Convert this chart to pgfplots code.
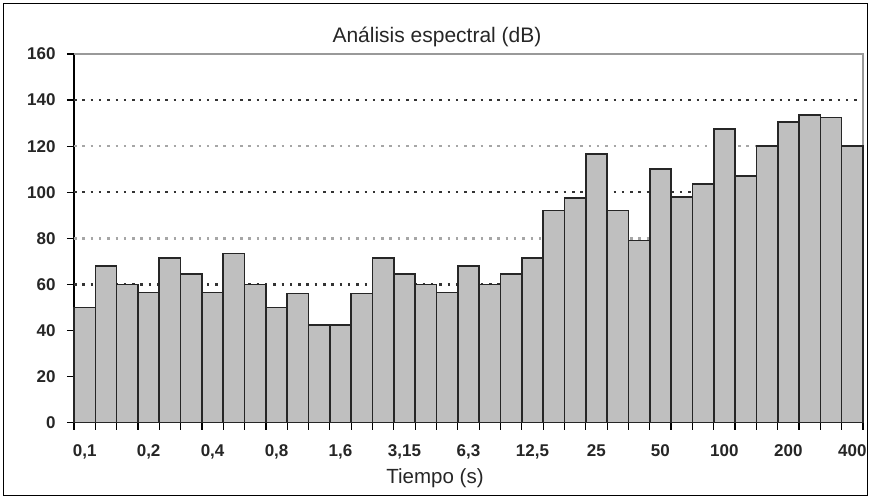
\documentclass[border=0pt]{standalone}
\usepackage{fontspec}
\setmainfont{Liberation Sans}
\usepackage{pgfplots}
\pgfplotsset{compat=1.18}
\begin{document}
\begin{tikzpicture}[x=1pt,y=1pt]
\path[use as bounding box] (0,0) rectangle (870,497);
\draw[black, line width=1pt] (3.5,1) rectangle (867,493);
\node[font=\fontsize{21}{24}\selectfont, text=black!85, anchor=base] at (437,454.7) {Análisis espectral (dB)};
\node[font=\fontsize{20.5}{24}\selectfont, text=black!85, anchor=base] at (435,13.7) {Tiempo (s)};
\begin{axis}[
  at={(74pt,74.3pt)}, anchor=south west,
  scale only axis, width=789pt, height=368.7pt,
  xmin=-0.5, xmax=36.5, ymin=0, ymax=160,
  axis lines*=left,
  axis line style={line width=1.5pt, black},
  clip=false,
  tick align=outside,
  major tick length=7pt,
  tick style={black, line width=1.2pt},
  xtick={-0.5,0.5,...,36.5},
  xticklabels={{0,1},{},{},{0,2},{},{},{0,4},{},{},{0,8},{},{},{1,6},{},{},{3,15},{},{},{6,3},{},{},{12,5},{},{},{25},{},{},{50},{},{},{100},{},{},{200},{},{},{400},{}},
  xticklabel style={xshift=10.66pt, yshift=-11pt, font=\fontsize{17}{19}\selectfont\bfseries, text=black!85},
  ytick={0,20,...,160},
  yticklabel style={xshift=-8pt, font=\fontsize{17}{19}\selectfont\bfseries, text=black!85},
  /pgf/number format/assume math mode=true,
]
\addplot[forget plot, black!80, line width=2.4pt, dash pattern=on 2.5pt off 5.8pt] coordinates {(-0.5,60) (36.5,60)};
\addplot[forget plot, black!80, line width=2.4pt, dash pattern=on 2.5pt off 5.8pt] coordinates {(-0.5,100) (36.5,100)};
\addplot[forget plot, black!80, line width=2.4pt, dash pattern=on 2.5pt off 5.8pt] coordinates {(-0.5,140) (36.5,140)};
\addplot[forget plot, black!35, line width=2.4pt, dash pattern=on 2.5pt off 5.8pt] coordinates {(-0.5,80) (36.5,80)};
\addplot[forget plot, black!35, line width=2.4pt, dash pattern=on 2.5pt off 5.8pt] coordinates {(-0.5,120) (36.5,120)};
\addplot[forget plot, black!40, line width=1.8pt] coordinates {(-0.5,160) (36.5,160) (36.5,0)};
\addplot[ybar, bar width=1, fill=black!25, draw=black!85, line width=1.6pt] coordinates {
(0,50) (1,68) (2,60) (3,56.5) (4,71.5) (5,64.5) (6,56.5) (7,73.5) (8,60) (9,50)
(10,56) (11,42.5) (12,42.5) (13,56) (14,71.5) (15,64.5) (16,60) (17,56.5) (18,68) (19,60)
(20,64.5) (21,71.5) (22,92) (23,97.5) (24,116.5) (25,92) (26,79) (27,110) (28,98) (29,103.5)
(30,127.5) (31,107) (32,120) (33,130.5) (34,133.5) (35,132.5) (36,120)};
\end{axis}
\end{tikzpicture}
\end{document}
